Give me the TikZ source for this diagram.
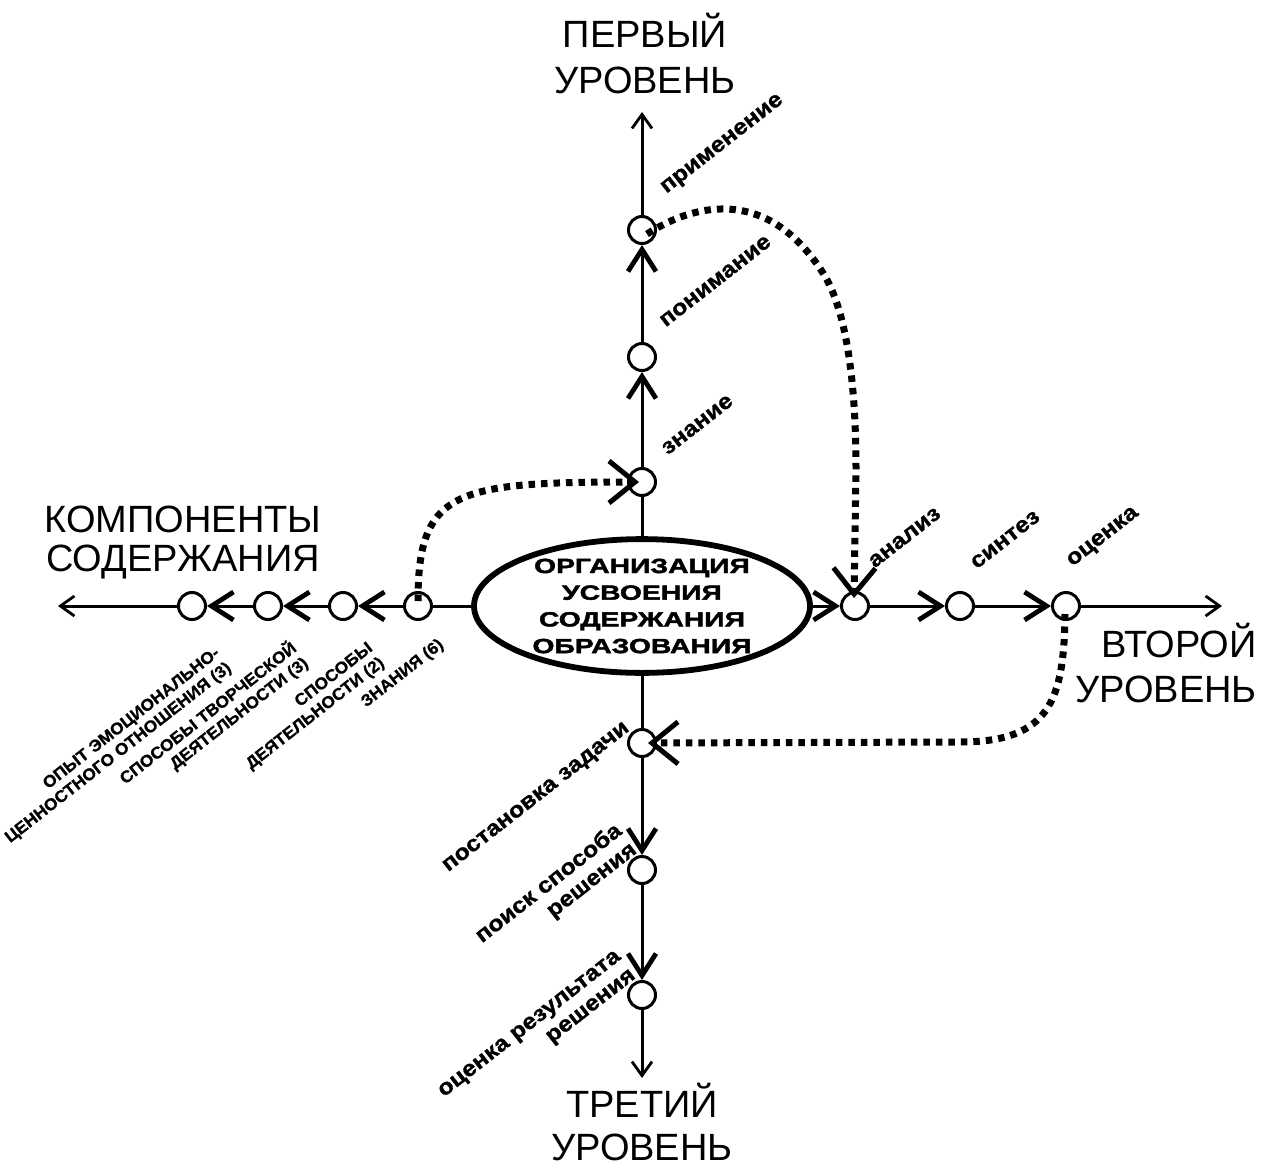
\documentclass[tikz,border=0pt]{standalone}
\usepackage{fontspec}
\setmainfont{Liberation Sans}
\newfontfamily\widefont[FakeStretch=1.12,BoldFeatures={FakeBold=1.2}]{Liberation Sans}
\newfontfamily\capsfont[FakeStretch=1.05,BoldFeatures={FakeBold=1}]{Liberation Sans}
\newfontfamily\corefont[FakeStretch=1.38,BoldFeatures={FakeBold=2.2}]{Liberation Sans}
\usetikzlibrary{arrows.meta,shapes.geometric}

\tikzset{
  axis/.style={line width=3pt},
  st/.style={circle, draw, line width=3pt, minimum size=27pt, inner sep=0pt, fill=white},
  flow/.style={axis, -{Straight Barb[length=22pt,width=28pt,line width=4.8pt]}},
  tipend/.style={axis, -{Straight Barb[length=14pt,width=20pt,line width=2.8pt]}},
  dots/.style={line width=7pt, dash pattern=on 6.5pt off 6pt,
    -{Straight Barb[length=26pt,width=42pt,line width=5pt]}},
  core/.style={ellipse, draw, line width=5.8pt, minimum width=336pt, minimum height=100pt,
    inner sep=0pt, align=center, font=\corefont\bfseries\fontsize{20.5}{26.7}\selectfont},
  lbl/.style={font=\widefont\bfseries\fontsize{22}{24}\selectfont, rotate=38, inner sep=0pt},
  caplbl/.style={font=\capsfont\bfseries\fontsize{16.5}{19}\selectfont, rotate=38, inner sep=0pt, align=right},
  big/.style={font=\fontsize{38}{44}\selectfont, inner sep=0pt}
}

\begin{document}
\begin{tikzpicture}[x=1pt,y=-1pt]
\useasboundingbox (0,0) rectangle (1262,1167);

% central ellipse
\node[core] (core) at (642,606) {ОРГАНИЗАЦИЯ\\УСВОЕНИЯ\\СОДЕРЖАНИЯ\\ОБРАЗОВАНИЯ};

% stations on the four axes
\node[st] (k1) at (642,482) {};
\node[st] (k2) at (642,357) {};
\node[st] (k3) at (642,230) {};
\node[st] (z1) at (418,606) {};
\node[st] (z2) at (343,606) {};
\node[st] (z3) at (268,606) {};
\node[st] (z4) at (192,606) {};
\node[st] (a1) at (855,606) {};
\node[st] (a2) at (960,606) {};
\node[st] (a3) at (1066,606) {};
\node[st] (p1) at (642,743) {};
\node[st] (p2) at (642,870) {};
\node[st] (p3) at (642,995) {};

\coordinate (uend) at (642,112);
\coordinate (lend) at (58,606);
\coordinate (rend) at (1222,606);
\coordinate (dend) at (642,1078);

% upward axis
\draw[axis] (core) -- (k1);
\draw[flow] (k1) -- (k2);
\draw[flow] (k2) -- (k3);
\draw[tipend] (k3) -- (uend);
% leftward axis
\draw[axis] (core) -- (z1);
\draw[flow] (z1) -- (z2);
\draw[flow] (z2) -- (z3);
\draw[flow] (z3) -- (z4);
\draw[tipend] (z4) -- (lend);
% rightward axis
\draw[flow] (core) -- (a1);
\draw[flow] (a1) -- (a2);
\draw[flow] (a2) -- (a3);
\draw[tipend] (a3) -- (rend);
% downward axis
\draw[axis] (core) -- (p1);
\draw[flow] (p1) -- (p2);
\draw[flow] (p2) -- (p3);
\draw[tipend] (p3) -- (dend);

% dotted links between the levels
\draw[dots] ([yshift=5pt]z1.center) .. controls (418,490) and (455,482) .. ([xshift=-3pt]k1.center);
\draw[dots] ([xshift=5pt,yshift=-4pt]k3.center) .. controls (700,200) and (770,190) .. (823,273)
  .. controls (846,309) and (856,380) .. (856,470) -- ([xshift=-1pt,yshift=8pt]a1.center);
\draw[dots] ([xshift=-1pt,yshift=-8pt]a3.center) .. controls (1064,700) and (1050,742) .. (960,742)
  -- ([xshift=6pt]p1.center);

% axis titles
\node[big, anchor=base] (t1a) at (645,47) {ПЕРВЫЙ};
\node[big, anchor=base] (t1b) at (645,93) {УРОВЕНЬ};
\node[big, anchor=base] (t0a) at (183,532) {КОМПОНЕНТЫ};
\node[big, anchor=base] (t0b) at (183,571) {СОДЕРЖАНИЯ};
\node[big, anchor=base east] (t2a) at (1257,657) {ВТОРОЙ};
\node[big, anchor=base east] (t2b) at (1257,702) {УРОВЕНЬ};
\node[big, anchor=base] (t3a) at (642,1117) {ТРЕТИЙ};
\node[big, anchor=base] (t3b) at (642,1160) {УРОВЕНЬ};

% station labels
\node[lbl, anchor=west] (s1) at (664,451) {знание};
\node[lbl, anchor=west] (s2) at (662,323) {понимание};
\node[lbl, anchor=west] (s3) at (664,191) {применение};
\node[lbl, anchor=west] (s4) at (871,564) {анализ};
\node[lbl, anchor=west] (s5) at (973,565) {синтез};
\node[lbl, anchor=west] (s6) at (1070,564) {оценка};
\node[lbl, anchor=east, align=right] (s7) at (628,727) {постановка задачи};
\node[lbl, anchor=east, align=right] (s8) at (627,838) {поиск способа\\решения};
\node[lbl, anchor=east, align=right] (s9) at (627,965) {оценка результата\\решения};

\node[caplbl, anchor=east] (c1) at (442,643) {ЗНАНИЯ (6)};
\node[caplbl, anchor=east] (c2) at (377,654) {СПОСОБЫ\\ДЕЯТЕЛЬНОСТИ (2)};
\node[caplbl, anchor=east] (c3) at (300,653) {СПОСОБЫ ТВОРЧЕСКОЙ\\ДЕЯТЕЛЬНОСТИ (3)};
\node[caplbl, anchor=east] (c4) at (224,659) {ОПЫТ ЭМОЦИОНАЛЬНО-\\ЦЕННОСТНОГО ОТНОШЕНИЯ (3)};
\end{tikzpicture}
\end{document}
